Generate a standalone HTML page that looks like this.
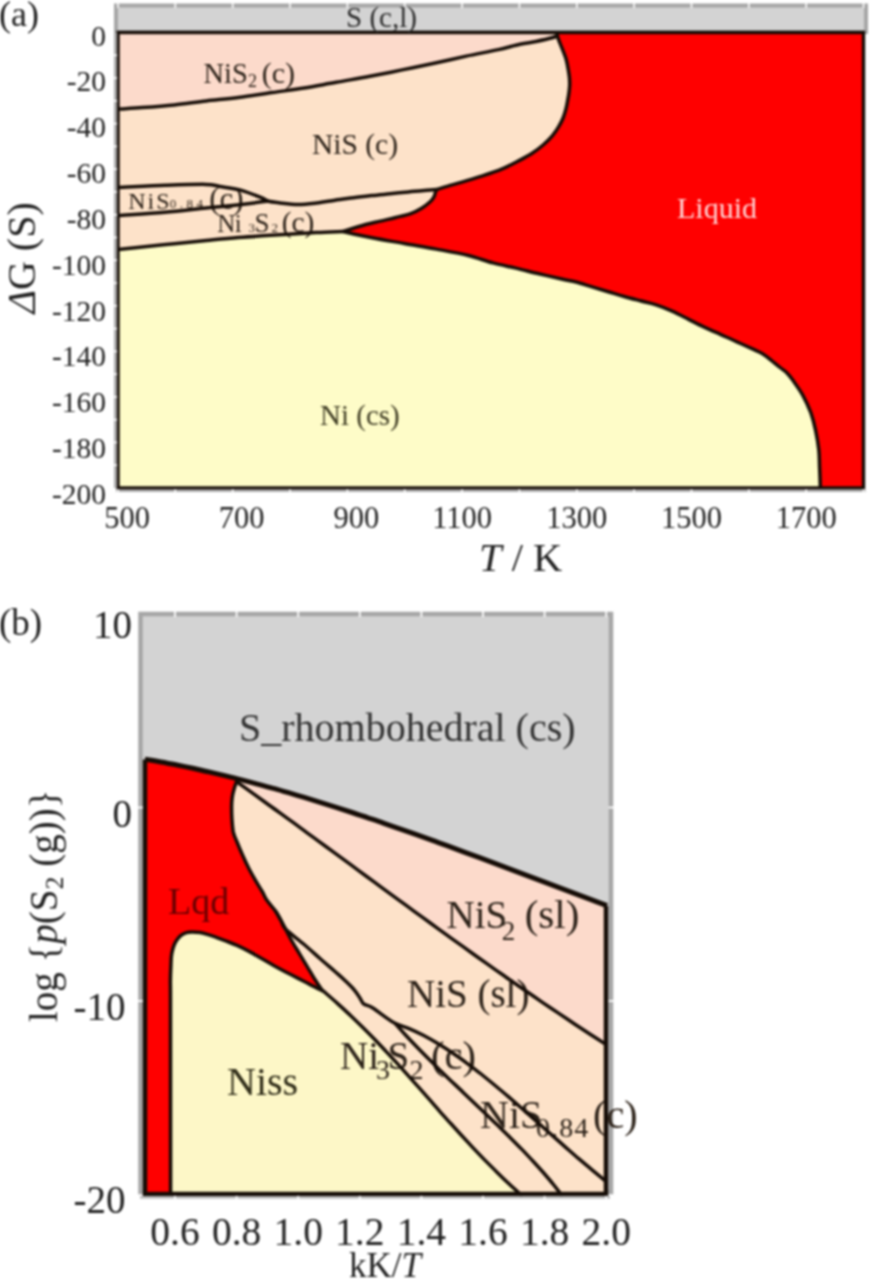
<!DOCTYPE html>
<html><head><meta charset="utf-8"><style>
html,body{margin:0;padding:0;background:#fff;}
body{width:872px;height:1280px;overflow:hidden;position:relative;}
svg{position:absolute;left:0;top:0;display:block;filter:blur(1px);}
text{font-family:"Liberation Serif",serif;}
</style></head><body>
<svg width="872" height="1280" viewBox="0 0 872 1280">
<rect x="116" y="5.5" width="750" height="26.5" fill="#d3d3d3" stroke="#a6a6a6" stroke-width="4"/>
<rect x="118.0" y="32.5" width="745.5" height="455.5" fill="#fde2c9"/>
<path d="M118.0,32.5 L557,32.5 L557.5,35.5 C556.6,35.9 555.6,36.8 552.0,37.8 C548.4,38.8 541.3,40.4 536.0,41.5 C530.7,42.6 526.3,42.9 520.0,44.3 C513.7,45.6 507.3,47.6 498.4,49.6 C489.4,51.6 477.0,53.8 466.3,56.1 C455.6,58.4 444.9,61.0 434.2,63.3 C423.5,65.6 412.8,67.7 402.1,69.9 C391.4,72.1 381.0,74.2 370.0,76.3 C359.0,78.4 347.3,80.3 336.3,82.3 C325.3,84.2 314.9,86.3 304.2,88.0 C293.5,89.7 283.1,91.0 272.1,92.6 C261.1,94.2 249.4,96.1 238.4,97.5 C227.4,98.9 217.0,99.7 206.3,100.9 C195.6,102.1 184.9,103.8 174.2,104.9 C163.5,106.0 151.5,106.9 142.1,107.6 C132.7,108.3 122.0,108.8 118.0,109.1 Z" fill="#fcdacb"/>
<path d="M557,32.5 L863.5,32.5 L863.5,488.0 L820.4,488.0 L820.4,489.0 C820.3,485.4 819.9,473.9 819.6,467.3 C819.3,460.8 819.5,455.9 818.8,449.7 C818.1,443.5 816.9,436.6 815.6,430.4 C814.3,424.2 812.9,418.6 810.8,412.7 C808.6,406.8 805.7,400.5 802.7,395.1 C799.8,389.8 795.8,384.4 793.1,380.6 C790.4,376.8 788.7,374.7 786.5,372.5 C784.3,370.3 782.4,369.4 780.0,367.5 C777.6,365.6 774.7,363.2 772.0,361.0 C769.3,358.8 766.9,356.4 763.6,354.4 C760.3,352.4 757.0,350.9 752.4,348.8 C747.8,346.7 741.6,344.0 736.3,341.6 C730.9,339.2 725.6,336.7 720.3,334.3 C714.9,331.9 709.6,329.6 704.2,327.1 C698.9,324.6 693.6,321.8 688.2,319.1 C682.9,316.4 677.5,313.5 672.1,311.1 C666.8,308.7 661.4,306.5 656.1,304.8 C650.8,303.1 645.6,302.2 640.3,300.8 C635.0,299.4 629.6,298.0 624.2,296.5 C618.9,295.0 613.6,293.3 608.2,291.7 C602.9,290.1 597.5,288.5 592.1,286.9 C586.8,285.3 581.2,283.3 576.1,282.0 C571.0,280.7 567.9,280.4 561.7,279.0 C555.5,277.6 546.4,275.6 538.8,273.8 C531.2,272.0 523.5,269.9 515.9,268.1 C508.2,266.3 500.8,265.0 492.9,262.9 C485.0,260.8 477.8,257.8 468.4,255.5 C459.0,253.2 447.0,251.1 436.3,249.1 C425.6,247.1 414.9,245.4 404.2,243.5 C393.5,241.6 382.3,239.8 372.1,237.8 C361.9,235.8 347.9,232.6 343.0,231.5 C346.8,230.3 359.5,226.2 365.7,224.5 C371.9,222.8 375.3,222.3 380.3,221.1 C385.3,219.9 390.6,218.8 395.8,217.5 C401.0,216.2 407.0,214.9 411.3,213.3 C415.6,211.8 418.5,210.1 421.6,208.2 C424.7,206.3 427.8,203.9 429.9,202.0 C432.0,200.1 433.1,198.4 434.0,196.8 C434.9,195.2 435.0,193.4 435.5,192.2 C436.0,191.0 436.8,189.9 437.0,189.5 C438.8,188.9 444.0,187.3 448.0,186.1 C452.0,184.9 455.4,184.0 461.0,182.3 C466.6,180.6 474.7,178.3 481.6,176.1 C488.5,173.9 495.8,171.6 502.2,168.9 C508.6,166.2 515.0,162.7 520.0,160.1 C525.0,157.5 528.2,155.8 532.1,153.3 C536.0,150.8 539.7,147.9 543.1,145.0 C546.5,142.1 549.7,139.0 552.3,135.9 C554.9,132.8 556.9,129.8 558.7,126.7 C560.5,123.6 562.1,120.6 563.3,117.5 C564.5,114.4 565.3,111.3 566.1,108.3 C566.9,105.2 567.4,101.8 567.9,99.2 C568.4,96.6 568.7,94.9 569.0,92.5 C569.3,90.1 569.6,87.5 569.7,85.0 C569.8,82.5 569.6,79.8 569.4,77.2 C569.1,74.6 568.7,72.2 568.2,69.2 C567.7,66.2 567.0,62.5 566.2,59.5 C565.4,56.5 564.3,54.2 563.3,51.5 C562.3,48.8 561.0,45.9 560.1,43.5 C559.2,41.1 558.2,38.8 557.7,37.0 C557.2,35.2 557.1,33.7 557.0,33.0 Z" fill="#ff0000"/>
<path d="M118.0,488.0 L118.0,249.4 C122.0,249.0 132.7,247.9 142.1,246.9 C151.5,245.9 163.5,244.8 174.2,243.7 C184.9,242.6 195.6,241.5 206.3,240.5 C217.0,239.5 227.0,238.5 238.4,237.6 C249.8,236.7 262.1,235.9 275.0,235.1 C287.9,234.3 304.7,233.2 316.0,232.6 C327.3,232.0 338.5,231.7 343.0,231.5 C347.9,232.6 361.9,235.8 372.1,237.8 C382.3,239.8 393.5,241.6 404.2,243.5 C414.9,245.4 425.6,247.1 436.3,249.1 C447.0,251.1 459.0,253.2 468.4,255.5 C477.8,257.8 485.0,260.8 492.9,262.9 C500.8,265.0 508.2,266.3 515.9,268.1 C523.5,269.9 531.2,272.0 538.8,273.8 C546.4,275.6 555.5,277.6 561.7,279.0 C567.9,280.4 571.0,280.7 576.1,282.0 C581.2,283.3 586.8,285.3 592.1,286.9 C597.5,288.5 602.9,290.1 608.2,291.7 C613.6,293.3 618.9,295.0 624.2,296.5 C629.6,298.0 635.0,299.4 640.3,300.8 C645.6,302.2 650.8,303.1 656.1,304.8 C661.4,306.5 666.8,308.7 672.1,311.1 C677.5,313.5 682.9,316.4 688.2,319.1 C693.6,321.8 698.9,324.6 704.2,327.1 C709.6,329.6 714.9,331.9 720.3,334.3 C725.6,336.7 730.9,339.2 736.3,341.6 C741.6,344.0 747.8,346.7 752.4,348.8 C757.0,350.9 760.3,352.4 763.6,354.4 C766.9,356.4 769.3,358.8 772.0,361.0 C774.7,363.2 777.6,365.6 780.0,367.5 C782.4,369.4 784.3,370.3 786.5,372.5 C788.7,374.7 790.4,376.8 793.1,380.6 C795.8,384.4 799.8,389.8 802.7,395.1 C805.7,400.5 808.6,406.8 810.8,412.7 C812.9,418.6 814.3,424.2 815.6,430.4 C816.9,436.6 818.1,443.5 818.8,449.7 C819.5,455.9 819.3,460.8 819.6,467.3 C819.9,473.9 820.3,485.4 820.4,489.0 L118.0,488.0 Z" fill="#fefcc8"/>
<text font-size="28.5" fill="#2b2118"><tspan x="203.4" y="83.4">NiS</tspan><tspan x="248" y="86.5" font-size="18">2</tspan><tspan x="261.7" y="83.4" font-size="30">(c)</tspan></text>
<text x="312" y="154.1" font-size="29.5" fill="#2b2118">NiS (c)</text>
<text font-size="24" fill="#2b2118"><tspan x="128.2" y="208.6" letter-spacing="2">NiS</tspan><tspan x="169.8" y="207.8" font-size="13" letter-spacing="3.5">0.84</tspan><tspan x="209.2" y="208.8" font-size="31">(c)</tspan></text>
<text font-size="25" fill="#2b2118"><tspan x="217.3" y="232.1" letter-spacing="-0.5">Ni</tspan><tspan x="248.4" y="232.3" font-size="13">3</tspan><tspan x="254.5" y="232.1" font-size="27">S</tspan><tspan x="271.4" y="232.3" font-size="13">2</tspan><tspan x="281.7" y="232.1" font-size="29.5">(c)</tspan></text>
<text x="677" y="217.8" font-size="30" fill="#ffd9d9">Liquid</text>
<text x="320" y="424.6" font-size="29" fill="#3d3a22">Ni (cs)</text>
<path d="M118.0,109.1 C122.0,108.8 132.7,108.3 142.1,107.6 C151.5,106.9 163.5,106.0 174.2,104.9 C184.9,103.8 195.6,102.1 206.3,100.9 C217.0,99.7 227.4,98.9 238.4,97.5 C249.4,96.1 261.1,94.2 272.1,92.6 C283.1,91.0 293.5,89.7 304.2,88.0 C314.9,86.3 325.3,84.2 336.3,82.3 C347.3,80.3 359.0,78.4 370.0,76.3 C381.0,74.2 391.4,72.1 402.1,69.9 C412.8,67.7 423.5,65.6 434.2,63.3 C444.9,61.0 455.6,58.4 466.3,56.1 C477.0,53.8 489.4,51.6 498.4,49.6 C507.3,47.6 513.7,45.6 520.0,44.3 C526.3,42.9 530.7,42.6 536.0,41.5 C541.3,40.4 548.4,38.8 552.0,37.8 C555.6,36.8 556.6,35.9 557.5,35.5" fill="none" stroke="#150c06" stroke-width="3.5" stroke-linejoin="round"/>
<path d="M557.0,33.0 C557.1,33.7 557.2,35.2 557.7,37.0 C558.2,38.8 559.2,41.1 560.1,43.5 C561.0,45.9 562.3,48.8 563.3,51.5 C564.3,54.2 565.4,56.5 566.2,59.5 C567.0,62.5 567.7,66.2 568.2,69.2 C568.7,72.2 569.1,74.6 569.4,77.2 C569.6,79.8 569.8,82.5 569.7,85.0 C569.6,87.5 569.3,90.1 569.0,92.5 C568.7,94.9 568.4,96.6 567.9,99.2 C567.4,101.8 566.9,105.2 566.1,108.3 C565.3,111.3 564.5,114.4 563.3,117.5 C562.1,120.6 560.5,123.6 558.7,126.7 C556.9,129.8 554.9,132.8 552.3,135.9 C549.7,139.0 546.5,142.1 543.1,145.0 C539.7,147.9 536.0,150.8 532.1,153.3 C528.2,155.8 525.0,157.5 520.0,160.1 C515.0,162.7 508.6,166.2 502.2,168.9 C495.8,171.6 488.5,173.9 481.6,176.1 C474.7,178.3 466.6,180.6 461.0,182.3 C455.4,184.0 452.0,184.9 448.0,186.1 C444.0,187.3 438.8,188.9 437.0,189.5" fill="none" stroke="#150c06" stroke-width="3.5" stroke-linejoin="round"/>
<path d="M118.0,187.4 C125.8,187.1 150.3,185.8 165.0,185.3 C179.7,184.8 196.8,184.2 206.0,184.4 C215.2,184.6 214.2,185.6 220.0,186.5 C225.8,187.4 233.7,188.2 240.6,190.1 C247.5,192.0 256.7,195.9 261.3,197.7 C265.9,199.5 264.9,200.1 268.0,201.0 C271.1,201.9 274.9,202.3 280.0,202.9 C285.1,203.5 292.2,204.5 298.3,204.5 C304.4,204.5 310.6,203.7 316.7,203.0 C322.8,202.3 328.9,201.1 335.0,200.2 C341.1,199.3 347.3,198.6 353.4,197.8 C359.5,197.0 365.6,196.3 371.7,195.6 C377.8,194.9 384.0,194.4 390.1,193.8 C396.2,193.2 402.3,192.5 408.4,191.9 C414.5,191.3 422.0,190.7 426.8,190.3 C431.6,189.9 435.3,189.6 437.0,189.5" fill="none" stroke="#150c06" stroke-width="3.5" stroke-linejoin="round"/>
<path d="M118.0,215.6 C125.8,215.0 150.3,213.5 165.0,212.2 C179.7,210.9 195.7,209.0 206.0,208.0 C216.3,207.0 219.7,206.8 227.0,206.0 C234.3,205.2 243.2,204.3 250.0,203.5 C256.8,202.7 265.0,201.4 268.0,201.0" fill="none" stroke="#150c06" stroke-width="3.5" stroke-linejoin="round"/>
<path d="M437.0,189.5 C436.8,189.9 436.0,191.0 435.5,192.2 C435.0,193.4 434.9,195.2 434.0,196.8 C433.1,198.4 432.0,200.1 429.9,202.0 C427.8,203.9 424.7,206.3 421.6,208.2 C418.5,210.1 415.6,211.8 411.3,213.3 C407.0,214.9 401.0,216.2 395.8,217.5 C390.6,218.8 385.3,219.9 380.3,221.1 C375.3,222.3 371.9,222.8 365.7,224.5 C359.5,226.2 346.8,230.3 343.0,231.5" fill="none" stroke="#150c06" stroke-width="3.5" stroke-linejoin="round"/>
<path d="M118.0,249.4 C122.0,249.0 132.7,247.9 142.1,246.9 C151.5,245.9 163.5,244.8 174.2,243.7 C184.9,242.6 195.6,241.5 206.3,240.5 C217.0,239.5 227.0,238.5 238.4,237.6 C249.8,236.7 262.1,235.9 275.0,235.1 C287.9,234.3 304.7,233.2 316.0,232.6 C327.3,232.0 338.5,231.7 343.0,231.5" fill="none" stroke="#150c06" stroke-width="3.5" stroke-linejoin="round"/>
<path d="M343.0,231.5 C347.9,232.6 361.9,235.8 372.1,237.8 C382.3,239.8 393.5,241.6 404.2,243.5 C414.9,245.4 425.6,247.1 436.3,249.1 C447.0,251.1 459.0,253.2 468.4,255.5 C477.8,257.8 485.0,260.8 492.9,262.9 C500.8,265.0 508.2,266.3 515.9,268.1 C523.5,269.9 531.2,272.0 538.8,273.8 C546.4,275.6 555.5,277.6 561.7,279.0 C567.9,280.4 571.0,280.7 576.1,282.0 C581.2,283.3 586.8,285.3 592.1,286.9 C597.5,288.5 602.9,290.1 608.2,291.7 C613.6,293.3 618.9,295.0 624.2,296.5 C629.6,298.0 635.0,299.4 640.3,300.8 C645.6,302.2 650.8,303.1 656.1,304.8 C661.4,306.5 666.8,308.7 672.1,311.1 C677.5,313.5 682.9,316.4 688.2,319.1 C693.6,321.8 698.9,324.6 704.2,327.1 C709.6,329.6 714.9,331.9 720.3,334.3 C725.6,336.7 730.9,339.2 736.3,341.6 C741.6,344.0 747.8,346.7 752.4,348.8 C757.0,350.9 760.3,352.4 763.6,354.4 C766.9,356.4 769.3,358.8 772.0,361.0 C774.7,363.2 777.6,365.6 780.0,367.5 C782.4,369.4 784.3,370.3 786.5,372.5 C788.7,374.7 790.4,376.8 793.1,380.6 C795.8,384.4 799.8,389.8 802.7,395.1 C805.7,400.5 808.6,406.8 810.8,412.7 C812.9,418.6 814.3,424.2 815.6,430.4 C816.9,436.6 818.1,443.5 818.8,449.7 C819.5,455.9 819.3,460.8 819.6,467.3 C819.9,473.9 820.3,485.4 820.4,489.0" fill="none" stroke="#150c06" stroke-width="3.5" stroke-linejoin="round"/>
<rect x="118.0" y="32.5" width="745.5" height="455.5" fill="none" stroke="#150c06" stroke-width="3.4"/>
<rect x="114" y="32.5" width="3" height="455.5" fill="#a8a8a8"/>
<rect x="113" y="54.5" width="4.2" height="1.6" fill="#fff"/>
<rect x="113" y="77.2" width="4.2" height="1.6" fill="#fff"/>
<rect x="113" y="100.0" width="4.2" height="1.6" fill="#fff"/>
<rect x="113" y="122.8" width="4.2" height="1.6" fill="#fff"/>
<rect x="113" y="145.6" width="4.2" height="1.6" fill="#fff"/>
<rect x="113" y="168.3" width="4.2" height="1.6" fill="#fff"/>
<rect x="113" y="191.1" width="4.2" height="1.6" fill="#fff"/>
<rect x="113" y="213.9" width="4.2" height="1.6" fill="#fff"/>
<rect x="113" y="236.7" width="4.2" height="1.6" fill="#fff"/>
<rect x="113" y="259.4" width="4.2" height="1.6" fill="#fff"/>
<rect x="113" y="282.2" width="4.2" height="1.6" fill="#fff"/>
<rect x="113" y="305.0" width="4.2" height="1.6" fill="#fff"/>
<rect x="113" y="327.8" width="4.2" height="1.6" fill="#fff"/>
<rect x="113" y="350.6" width="4.2" height="1.6" fill="#fff"/>
<rect x="113" y="373.3" width="4.2" height="1.6" fill="#fff"/>
<rect x="113" y="396.1" width="4.2" height="1.6" fill="#fff"/>
<rect x="113" y="418.9" width="4.2" height="1.6" fill="#fff"/>
<rect x="113" y="441.6" width="4.2" height="1.6" fill="#fff"/>
<rect x="113" y="464.4" width="4.2" height="1.6" fill="#fff"/>
<rect x="116" y="489.6" width="749.5" height="2.4" fill="#b0b0b0"/>
<rect x="117.2" y="489.2" width="1.6" height="3.4" fill="#fff"/>
<rect x="174.5" y="489.2" width="1.6" height="3.4" fill="#fff"/>
<rect x="231.9" y="489.2" width="1.6" height="3.4" fill="#fff"/>
<rect x="289.2" y="489.2" width="1.6" height="3.4" fill="#fff"/>
<rect x="346.6" y="489.2" width="1.6" height="3.4" fill="#fff"/>
<rect x="403.9" y="489.2" width="1.6" height="3.4" fill="#fff"/>
<rect x="461.3" y="489.2" width="1.6" height="3.4" fill="#fff"/>
<rect x="518.6" y="489.2" width="1.6" height="3.4" fill="#fff"/>
<rect x="576.0" y="489.2" width="1.6" height="3.4" fill="#fff"/>
<rect x="633.3" y="489.2" width="1.6" height="3.4" fill="#fff"/>
<rect x="690.7" y="489.2" width="1.6" height="3.4" fill="#fff"/>
<rect x="748.0" y="489.2" width="1.6" height="3.4" fill="#fff"/>
<rect x="805.4" y="489.2" width="1.6" height="3.4" fill="#fff"/>
<rect x="862.7" y="489.2" width="1.6" height="3.4" fill="#fff"/>
<rect x="117.2" y="2" width="1.6" height="6" fill="#fff"/>
<rect x="174.5" y="2" width="1.6" height="6" fill="#fff"/>
<rect x="231.9" y="2" width="1.6" height="6" fill="#fff"/>
<rect x="289.2" y="2" width="1.6" height="6" fill="#fff"/>
<rect x="346.6" y="2" width="1.6" height="6" fill="#fff"/>
<rect x="403.9" y="2" width="1.6" height="6" fill="#fff"/>
<rect x="461.3" y="2" width="1.6" height="6" fill="#fff"/>
<rect x="518.6" y="2" width="1.6" height="6" fill="#fff"/>
<rect x="576.0" y="2" width="1.6" height="6" fill="#fff"/>
<rect x="633.3" y="2" width="1.6" height="6" fill="#fff"/>
<rect x="690.7" y="2" width="1.6" height="6" fill="#fff"/>
<rect x="748.0" y="2" width="1.6" height="6" fill="#fff"/>
<rect x="805.4" y="2" width="1.6" height="6" fill="#fff"/>
<rect x="862.7" y="2" width="1.6" height="6" fill="#fff"/>
<text x="-1" y="25.5" font-size="36" fill="#222">(a)</text>
<text x="346" y="26.8" font-size="29" fill="#2a2a2a" textLength="71" lengthAdjust="spacingAndGlyphs">S (c,l)</text>
<text x="106" y="45.5" font-size="29.5" fill="#222" text-anchor="end">0</text>
<text x="106" y="91.3" font-size="29.5" fill="#222" text-anchor="end">-20</text>
<text x="106" y="137.2" font-size="29.5" fill="#222" text-anchor="end">-40</text>
<text x="106" y="183.1" font-size="29.5" fill="#222" text-anchor="end">-60</text>
<text x="106" y="228.9" font-size="29.5" fill="#222" text-anchor="end">-80</text>
<text x="106" y="274.8" font-size="29.5" fill="#222" text-anchor="end">-100</text>
<text x="106" y="320.6" font-size="29.5" fill="#222" text-anchor="end">-120</text>
<text x="106" y="366.4" font-size="29.5" fill="#222" text-anchor="end">-140</text>
<text x="106" y="412.3" font-size="29.5" fill="#222" text-anchor="end">-160</text>
<text x="106" y="458.2" font-size="29.5" fill="#222" text-anchor="end">-180</text>
<text x="106" y="504.0" font-size="29.5" fill="#222" text-anchor="end">-200</text>
<text x="127.0" y="527.5" font-size="30.5" fill="#222" text-anchor="middle">500</text>
<text x="241.7" y="527.5" font-size="30.5" fill="#222" text-anchor="middle">700</text>
<text x="356.4" y="527.5" font-size="30.5" fill="#222" text-anchor="middle">900</text>
<text x="462.1" y="527.5" font-size="30.5" fill="#222" text-anchor="middle">1100</text>
<text x="576.8" y="527.5" font-size="30.5" fill="#222" text-anchor="middle">1300</text>
<text x="691.5" y="527.5" font-size="30.5" fill="#222" text-anchor="middle">1500</text>
<text x="806.2" y="527.5" font-size="30.5" fill="#222" text-anchor="middle">1700</text>
<text x="479" y="570.7" font-size="40.5" fill="#222"><tspan font-style="italic">T</tspan> / K</text>
<text transform="translate(34.5,313.5) rotate(-90)" font-size="40" fill="#222"><tspan font-style="italic">&#916;</tspan>G (S)</text>
<rect x="140.5" y="614" width="470.5" height="578" fill="#d3d3d3" stroke="#a6a6a6" stroke-width="4.5"/>
<path d="M145.0,759.2 C147.7,759.6 155.6,761.0 160.9,762.0 C166.2,762.9 171.6,764.0 176.9,765.0 C182.2,766.1 187.5,767.2 192.8,768.3 C198.1,769.5 203.4,770.6 208.7,771.9 C214.0,773.1 219.3,774.3 224.7,775.6 C230.0,776.9 235.3,778.2 240.6,779.6 C245.9,781.0 251.2,782.4 256.5,783.8 C261.8,785.2 267.1,786.7 272.4,788.2 C277.8,789.6 283.1,791.2 288.4,792.7 C293.7,794.3 299.0,795.8 304.3,797.4 C309.6,799.0 314.9,800.7 320.2,802.3 C325.6,804.0 330.9,805.7 336.2,807.4 C341.5,809.1 346.8,810.8 352.1,812.5 C357.4,814.3 362.7,816.1 368.0,817.8 C373.3,819.6 378.7,821.4 384.0,823.3 C389.3,825.1 394.6,826.9 399.9,828.8 C405.2,830.7 410.5,832.5 415.8,834.4 C421.1,836.3 426.4,838.2 431.8,840.1 C437.1,842.1 442.4,844.0 447.7,845.9 C453.0,847.9 458.3,849.8 463.6,851.8 C468.9,853.8 474.2,855.7 479.6,857.7 C484.9,859.7 490.2,861.7 495.5,863.7 C500.8,865.7 506.1,867.7 511.4,869.7 C516.7,871.7 522.0,873.7 527.3,875.7 C532.7,877.7 538.0,879.7 543.3,881.7 C548.6,883.7 553.9,885.7 559.2,887.7 C564.5,889.7 569.8,891.7 575.1,893.7 C580.4,895.7 585.8,897.7 591.1,899.7 C596.4,901.7 604.3,904.7 607.0,905.7 L606.0,1194.0 L145.0,1194.0 Z" fill="#fde2c9"/>
<path d="M237.5,778.8 C238.0,778.9 237.4,778.8 240.6,779.6 C243.8,780.4 251.2,782.4 256.5,783.8 C261.8,785.2 267.1,786.7 272.4,788.2 C277.8,789.6 283.1,791.2 288.4,792.7 C293.7,794.3 299.0,795.8 304.3,797.4 C309.6,799.0 314.9,800.7 320.2,802.3 C325.6,804.0 330.9,805.7 336.2,807.4 C341.5,809.1 346.8,810.8 352.1,812.5 C357.4,814.3 362.7,816.1 368.0,817.8 C373.3,819.6 378.7,821.4 384.0,823.3 C389.3,825.1 394.6,826.9 399.9,828.8 C405.2,830.7 410.5,832.5 415.8,834.4 C421.1,836.3 426.4,838.2 431.8,840.1 C437.1,842.1 442.4,844.0 447.7,845.9 C453.0,847.9 458.3,849.8 463.6,851.8 C468.9,853.8 474.2,855.7 479.6,857.7 C484.9,859.7 490.2,861.7 495.5,863.7 C500.8,865.7 506.1,867.7 511.4,869.7 C516.7,871.7 522.0,873.7 527.3,875.7 C532.7,877.7 538.0,879.7 543.3,881.7 C548.6,883.7 553.9,885.7 559.2,887.7 C564.5,889.7 569.8,891.7 575.1,893.7 C580.4,895.7 585.8,897.7 591.1,899.7 C596.4,901.7 604.3,904.7 607.0,905.7 L607.0,1045.1 C604.3,1043.4 596.3,1038.2 590.9,1034.7 C585.6,1031.2 580.2,1027.7 574.9,1024.2 C569.5,1020.6 564.2,1017.0 558.8,1013.4 C553.4,1009.8 548.1,1006.2 542.7,1002.6 C537.4,998.9 532.0,995.2 526.7,991.5 C521.3,987.8 516.0,984.1 510.6,980.4 C505.3,976.6 499.9,972.9 494.5,969.1 C489.2,965.3 483.8,961.5 478.5,957.7 C473.1,953.9 467.8,950.1 462.4,946.2 C457.1,942.4 451.7,938.5 446.3,934.7 C441.0,930.8 435.6,926.9 430.3,923.0 C424.9,919.1 419.6,915.2 414.2,911.3 C408.9,907.4 403.5,903.5 398.2,899.6 C392.8,895.7 387.4,891.7 382.1,887.8 C376.7,883.9 371.4,879.9 366.0,876.0 C360.7,872.1 355.3,868.1 350.0,864.2 C344.6,860.3 339.2,856.3 333.9,852.4 C328.5,848.5 323.2,844.5 317.8,840.6 C312.5,836.7 307.1,832.8 301.8,828.8 C296.4,824.9 291.1,821.0 285.7,817.1 C280.3,813.2 275.0,809.3 269.6,805.5 C264.3,801.6 258.9,797.7 253.6,793.9 C248.2,790.0 240.2,784.2 237.5,782.3 Z" fill="#fcdacb"/>
<path d="M145.0,759.2 C147.7,759.6 155.6,761.0 160.9,762.0 C166.2,762.9 171.6,764.0 176.9,765.0 C182.2,766.1 187.5,767.2 192.8,768.3 C198.1,769.5 203.4,770.6 208.7,771.9 C214.0,773.1 219.9,774.5 224.7,775.6 C229.5,776.8 235.4,778.3 237.5,778.8 C237.0,780.4 235.2,785.2 234.3,788.3 C233.4,791.4 232.6,794.4 232.2,797.5 C231.8,800.6 231.6,803.2 231.6,806.7 C231.6,810.2 231.6,814.1 231.9,818.3 C232.2,822.5 232.5,828.1 233.3,832.1 C234.2,836.1 235.5,838.2 237.0,842.0 C238.5,845.8 240.5,850.5 242.5,855.0 C244.5,859.5 246.8,864.5 249.0,868.8 C251.2,873.1 253.4,876.9 255.6,880.7 C257.8,884.5 260.3,888.3 262.2,891.5 C264.1,894.7 264.5,896.8 266.7,900.0 C268.9,903.2 273.1,907.6 275.5,911.0 C277.9,914.4 279.3,917.5 281.0,920.5 C282.7,923.5 283.6,925.4 285.5,929.0 C287.4,932.6 290.0,937.8 292.4,942.0 C294.8,946.2 297.3,950.1 299.7,954.1 C302.1,958.1 304.5,962.1 306.9,966.1 C309.3,970.1 311.7,974.4 314.1,978.2 C316.5,982.0 319.7,986.8 321.3,989.0 C322.9,991.2 323.3,991.0 323.7,991.4 C323.3,991.2 323.7,991.4 321.3,990.2 C318.9,989.0 313.3,986.2 309.3,984.1 C305.3,982.0 301.2,980.0 297.2,977.9 C293.2,975.8 289.2,973.8 285.2,971.7 C281.2,969.6 277.2,967.5 273.2,965.2 C269.2,963.0 265.1,960.5 261.1,958.2 C257.1,955.9 253.1,953.5 249.1,951.4 C245.1,949.3 241.0,947.2 237.0,945.4 C233.0,943.6 228.5,942.0 225.0,940.6 C221.5,939.2 219.0,938.3 216.2,937.3 C213.4,936.3 210.9,935.4 208.2,934.6 C205.5,933.8 202.8,933.0 200.1,932.6 C197.4,932.2 194.5,932.0 192.1,932.0 C189.7,932.0 187.7,932.1 185.7,932.8 C183.7,933.5 181.8,934.6 180.1,936.1 C178.4,937.6 177.0,939.7 175.8,941.7 C174.6,943.7 173.8,945.7 173.1,948.1 C172.4,950.5 171.8,952.8 171.4,956.1 C171.0,959.5 171.0,964.2 170.8,968.2 C170.6,972.2 170.5,973.0 170.4,980.0 C170.3,987.0 170.5,974.0 170.5,1010.0 C170.5,1046.0 170.6,1165.0 170.6,1196.0 L145.0,1194.0 Z" fill="#ff0000"/>
<path d="M170.6,1196.0 C170.6,1165.0 170.5,1046.0 170.5,1010.0 C170.5,974.0 170.3,987.0 170.4,980.0 C170.5,973.0 170.6,972.2 170.8,968.2 C171.0,964.2 171.0,959.5 171.4,956.1 C171.8,952.8 172.4,950.5 173.1,948.1 C173.8,945.7 174.6,943.7 175.8,941.7 C177.0,939.7 178.4,937.6 180.1,936.1 C181.8,934.6 183.7,933.5 185.7,932.8 C187.7,932.1 189.7,932.0 192.1,932.0 C194.5,932.0 197.4,932.2 200.1,932.6 C202.8,933.0 205.5,933.8 208.2,934.6 C210.9,935.4 213.4,936.3 216.2,937.3 C219.0,938.3 221.5,939.2 225.0,940.6 C228.5,942.0 233.0,943.6 237.0,945.4 C241.0,947.2 245.1,949.3 249.1,951.4 C253.1,953.5 257.1,955.9 261.1,958.2 C265.1,960.5 269.2,963.0 273.2,965.2 C277.2,967.5 281.2,969.6 285.2,971.7 C289.2,973.8 293.2,975.8 297.2,977.9 C301.2,980.0 305.3,982.0 309.3,984.1 C313.3,986.2 318.9,989.0 321.3,990.2 C323.7,991.4 323.3,991.2 323.7,991.4 C326.0,993.4 333.0,999.4 337.4,1003.4 C341.9,1007.4 346.2,1011.5 350.5,1015.5 C354.7,1019.5 358.8,1023.5 362.9,1027.5 C366.9,1031.5 370.9,1035.5 374.8,1039.5 C378.7,1043.6 382.5,1047.6 386.2,1051.6 C390.0,1055.6 393.7,1059.6 397.4,1063.6 C401.0,1067.6 404.6,1071.6 408.2,1075.6 C411.8,1079.7 415.4,1083.7 419.0,1087.7 C422.5,1091.7 426.0,1095.7 429.6,1099.7 C433.1,1103.7 436.7,1107.7 440.2,1111.8 C443.8,1115.8 447.3,1119.8 451.0,1123.8 C454.6,1127.8 458.2,1131.8 461.9,1135.8 C465.6,1139.8 469.3,1143.8 473.1,1147.9 C476.9,1151.9 480.7,1155.9 484.6,1159.9 C488.6,1163.9 492.6,1167.9 496.7,1171.9 C500.7,1175.9 504.9,1180.0 509.2,1184.0 C513.5,1188.0 520.2,1194.0 522.4,1196.0 Z" fill="#fdf7c7"/>
<text x="239" y="741.3" font-size="40" fill="#333">S_rhombohedral (cs)</text>
<text x="168" y="914.4" font-size="38" fill="#6a0000">Lqd</text>
<text font-size="39" fill="#2b2118"><tspan x="446.5" y="928">NiS</tspan><tspan x="501.8" y="940" font-size="27">2</tspan><tspan x="524.7" y="928" font-size="41">(sl)</tspan></text>
<text x="407" y="1007" font-size="39" fill="#2b2118">NiS (sl)</text>
<text font-size="39" fill="#2b2118"><tspan x="340" y="1068.5">Ni</tspan><tspan x="376" y="1079" font-size="28">3</tspan><tspan x="387.5" y="1068.5">S</tspan><tspan x="409.5" y="1079" font-size="28">2</tspan><tspan x="431" y="1068.5" font-size="40.5">(c)</tspan></text>
<text x="227" y="1095.3" font-size="40" fill="#2f2c18">Niss</text>
<text font-size="40" fill="#2b2118"><tspan x="480.1" y="1128.2">NiS</tspan><tspan x="536" y="1137.1" font-size="28" letter-spacing="1.1">0.84</tspan><tspan x="593.1" y="1128.2">(c)</tspan></text>
<path d="M145.0,759.2 C147.7,759.6 155.6,761.0 160.9,762.0 C166.2,762.9 171.6,764.0 176.9,765.0 C182.2,766.1 187.5,767.2 192.8,768.3 C198.1,769.5 203.4,770.6 208.7,771.9 C214.0,773.1 219.3,774.3 224.7,775.6 C230.0,776.9 235.3,778.2 240.6,779.6 C245.9,781.0 251.2,782.4 256.5,783.8 C261.8,785.2 267.1,786.7 272.4,788.2 C277.8,789.6 283.1,791.2 288.4,792.7 C293.7,794.3 299.0,795.8 304.3,797.4 C309.6,799.0 314.9,800.7 320.2,802.3 C325.6,804.0 330.9,805.7 336.2,807.4 C341.5,809.1 346.8,810.8 352.1,812.5 C357.4,814.3 362.7,816.1 368.0,817.8 C373.3,819.6 378.7,821.4 384.0,823.3 C389.3,825.1 394.6,826.9 399.9,828.8 C405.2,830.7 410.5,832.5 415.8,834.4 C421.1,836.3 426.4,838.2 431.8,840.1 C437.1,842.1 442.4,844.0 447.7,845.9 C453.0,847.9 458.3,849.8 463.6,851.8 C468.9,853.8 474.2,855.7 479.6,857.7 C484.9,859.7 490.2,861.7 495.5,863.7 C500.8,865.7 506.1,867.7 511.4,869.7 C516.7,871.7 522.0,873.7 527.3,875.7 C532.7,877.7 538.0,879.7 543.3,881.7 C548.6,883.7 553.9,885.7 559.2,887.7 C564.5,889.7 569.8,891.7 575.1,893.7 C580.4,895.7 585.8,897.7 591.1,899.7 C596.4,901.7 604.3,904.7 607.0,905.7" fill="none" stroke="#150c06" stroke-width="5" stroke-linejoin="round"/>
<path d="M237.5,778.8 C237.0,780.4 235.2,785.2 234.3,788.3 C233.4,791.4 232.6,794.4 232.2,797.5 C231.8,800.6 231.6,803.2 231.6,806.7 C231.6,810.2 231.6,814.1 231.9,818.3 C232.2,822.5 232.5,828.1 233.3,832.1 C234.2,836.1 235.5,838.2 237.0,842.0 C238.5,845.8 240.5,850.5 242.5,855.0 C244.5,859.5 246.8,864.5 249.0,868.8 C251.2,873.1 253.4,876.9 255.6,880.7 C257.8,884.5 260.3,888.3 262.2,891.5 C264.1,894.7 264.5,896.8 266.7,900.0 C268.9,903.2 273.1,907.6 275.5,911.0 C277.9,914.4 279.3,917.5 281.0,920.5 C282.7,923.5 283.6,925.4 285.5,929.0 C287.4,932.6 290.0,937.8 292.4,942.0 C294.8,946.2 297.3,950.1 299.7,954.1 C302.1,958.1 304.5,962.1 306.9,966.1 C309.3,970.1 311.7,974.4 314.1,978.2 C316.5,982.0 319.7,986.8 321.3,989.0 C322.9,991.2 323.3,991.0 323.7,991.4" fill="none" stroke="#150c06" stroke-width="3.5" stroke-linejoin="round"/>
<path d="M170.6,1196.0 C170.6,1165.0 170.5,1046.0 170.5,1010.0 C170.5,974.0 170.3,987.0 170.4,980.0 C170.5,973.0 170.6,972.2 170.8,968.2 C171.0,964.2 171.0,959.5 171.4,956.1 C171.8,952.8 172.4,950.5 173.1,948.1 C173.8,945.7 174.6,943.7 175.8,941.7 C177.0,939.7 178.4,937.6 180.1,936.1 C181.8,934.6 183.7,933.5 185.7,932.8 C187.7,932.1 189.7,932.0 192.1,932.0 C194.5,932.0 197.4,932.2 200.1,932.6 C202.8,933.0 205.5,933.8 208.2,934.6 C210.9,935.4 213.4,936.3 216.2,937.3 C219.0,938.3 221.5,939.2 225.0,940.6 C228.5,942.0 233.0,943.6 237.0,945.4 C241.0,947.2 245.1,949.3 249.1,951.4 C253.1,953.5 257.1,955.9 261.1,958.2 C265.1,960.5 269.2,963.0 273.2,965.2 C277.2,967.5 281.2,969.6 285.2,971.7 C289.2,973.8 293.2,975.8 297.2,977.9 C301.2,980.0 305.3,982.0 309.3,984.1 C313.3,986.2 318.9,989.0 321.3,990.2 C323.7,991.4 323.3,991.2 323.7,991.4" fill="none" stroke="#150c06" stroke-width="3.5" stroke-linejoin="round"/>
<path d="M323.7,991.4 C326.0,993.4 333.0,999.4 337.4,1003.4 C341.9,1007.4 346.2,1011.5 350.5,1015.5 C354.7,1019.5 358.8,1023.5 362.9,1027.5 C366.9,1031.5 370.9,1035.5 374.8,1039.5 C378.7,1043.6 382.5,1047.6 386.2,1051.6 C390.0,1055.6 393.7,1059.6 397.4,1063.6 C401.0,1067.6 404.6,1071.6 408.2,1075.6 C411.8,1079.7 415.4,1083.7 419.0,1087.7 C422.5,1091.7 426.0,1095.7 429.6,1099.7 C433.1,1103.7 436.7,1107.7 440.2,1111.8 C443.8,1115.8 447.3,1119.8 451.0,1123.8 C454.6,1127.8 458.2,1131.8 461.9,1135.8 C465.6,1139.8 469.3,1143.8 473.1,1147.9 C476.9,1151.9 480.7,1155.9 484.6,1159.9 C488.6,1163.9 492.6,1167.9 496.7,1171.9 C500.7,1175.9 504.9,1180.0 509.2,1184.0 C513.5,1188.0 520.2,1194.0 522.4,1196.0" fill="none" stroke="#150c06" stroke-width="3.5" stroke-linejoin="round"/>
<path d="M237.5,782.3 C240.2,784.2 248.2,790.0 253.6,793.9 C258.9,797.7 264.3,801.6 269.6,805.5 C275.0,809.3 280.3,813.2 285.7,817.1 C291.1,821.0 296.4,824.9 301.8,828.8 C307.1,832.8 312.5,836.7 317.8,840.6 C323.2,844.5 328.5,848.5 333.9,852.4 C339.2,856.3 344.6,860.3 350.0,864.2 C355.3,868.1 360.7,872.1 366.0,876.0 C371.4,879.9 376.7,883.9 382.1,887.8 C387.4,891.7 392.8,895.7 398.2,899.6 C403.5,903.5 408.9,907.4 414.2,911.3 C419.6,915.2 424.9,919.1 430.3,923.0 C435.6,926.9 441.0,930.8 446.3,934.7 C451.7,938.5 457.1,942.4 462.4,946.2 C467.8,950.1 473.1,953.9 478.5,957.7 C483.8,961.5 489.2,965.3 494.5,969.1 C499.9,972.9 505.3,976.6 510.6,980.4 C516.0,984.1 521.3,987.8 526.7,991.5 C532.0,995.2 537.4,998.9 542.7,1002.6 C548.1,1006.2 553.4,1009.8 558.8,1013.4 C564.2,1017.0 569.5,1020.6 574.9,1024.2 C580.2,1027.7 585.6,1031.2 590.9,1034.7 C596.3,1038.2 604.3,1043.4 607.0,1045.1" fill="none" stroke="#150c06" stroke-width="3.5" stroke-linejoin="round"/>
<path d="M275.5,911.0 C276.4,912.6 279.3,917.5 281.0,920.5 C282.7,923.5 281.8,925.2 285.5,929.0 C289.2,932.8 297.2,938.6 303.0,943.5 C308.8,948.4 314.7,953.8 320.0,958.5 C325.3,963.2 330.8,967.8 335.0,971.5 C339.2,975.2 341.8,977.4 345.0,980.5 C348.2,983.6 351.9,987.1 354.4,990.1 C356.9,993.1 358.6,995.9 360.1,998.2 C361.6,1000.5 361.7,1002.4 363.6,1003.9 C365.5,1005.4 368.4,1005.4 371.6,1007.3 C374.9,1009.2 379.2,1012.7 383.1,1015.4 C387.0,1018.1 390.7,1021.1 395.0,1023.3 C399.3,1025.5 404.4,1026.6 409.1,1028.6 C413.8,1030.6 418.6,1032.9 423.3,1035.3 C428.0,1037.8 432.7,1040.4 437.4,1043.3 C442.1,1046.1 446.8,1049.1 451.5,1052.3 C456.2,1055.5 461.0,1058.8 465.7,1062.3 C470.4,1065.7 475.1,1069.3 479.8,1073.0 C484.5,1076.8 489.2,1080.6 493.9,1084.5 C498.6,1088.4 503.4,1092.4 508.1,1096.4 C512.8,1100.5 517.5,1104.6 522.2,1108.7 C526.9,1112.9 531.6,1117.1 536.3,1121.3 C541.0,1125.4 545.8,1129.7 550.5,1133.9 C555.2,1138.0 559.9,1142.2 564.6,1146.4 C569.3,1150.5 574.0,1154.7 578.7,1158.7 C583.4,1162.7 588.2,1166.7 592.9,1170.6 C597.6,1174.5 604.6,1180.2 607.0,1182.1" fill="none" stroke="#150c06" stroke-width="3.5" stroke-linejoin="round"/>
<path d="M395.0,1023.3 C396.7,1025.2 401.8,1031.0 405.3,1034.8 C408.9,1038.7 412.5,1042.5 416.2,1046.3 C419.9,1050.2 423.7,1054.0 427.5,1057.8 C431.4,1061.7 435.3,1065.5 439.2,1069.4 C443.1,1073.2 447.1,1077.0 451.1,1080.9 C455.1,1084.7 459.2,1088.5 463.2,1092.4 C467.2,1096.2 471.3,1100.1 475.3,1103.9 C479.3,1107.7 483.4,1111.6 487.4,1115.4 C491.4,1119.2 495.4,1123.1 499.3,1126.9 C503.3,1130.8 507.2,1134.6 511.0,1138.4 C514.9,1142.3 518.7,1146.1 522.4,1149.9 C526.1,1153.8 529.7,1157.6 533.3,1161.5 C536.8,1165.3 540.3,1169.1 543.7,1173.0 C547.0,1176.8 550.3,1180.6 553.4,1184.5 C556.5,1188.3 560.9,1194.1 562.4,1196.0" fill="none" stroke="#150c06" stroke-width="3.5" stroke-linejoin="round"/>
<path d="M145.0,759.5 L145.0,1194.0 L606.0,1194.0 L606.0,906" fill="none" stroke="#150c06" stroke-width="4.5"/>
<rect x="140" y="1196.2" width="470.0" height="2.4" fill="#b4b4b4"/>
<rect x="174.1" y="1195.8" width="1.8" height="3.4" fill="#fff"/>
<rect x="235.7" y="1195.8" width="1.8" height="3.4" fill="#fff"/>
<rect x="297.3" y="1195.8" width="1.8" height="3.4" fill="#fff"/>
<rect x="358.9" y="1195.8" width="1.8" height="3.4" fill="#fff"/>
<rect x="420.5" y="1195.8" width="1.8" height="3.4" fill="#fff"/>
<rect x="482.1" y="1195.8" width="1.8" height="3.4" fill="#fff"/>
<rect x="543.7" y="1195.8" width="1.8" height="3.4" fill="#fff"/>
<rect x="605.3" y="1195.8" width="1.8" height="3.4" fill="#fff"/>
<rect x="174.1" y="610" width="1.8" height="7" fill="#fff"/>
<rect x="235.7" y="610" width="1.8" height="7" fill="#fff"/>
<rect x="297.3" y="610" width="1.8" height="7" fill="#fff"/>
<rect x="358.9" y="610" width="1.8" height="7" fill="#fff"/>
<rect x="420.5" y="610" width="1.8" height="7" fill="#fff"/>
<rect x="482.1" y="610" width="1.8" height="7" fill="#fff"/>
<rect x="543.7" y="610" width="1.8" height="7" fill="#fff"/>
<rect x="605.3" y="610" width="1.8" height="7" fill="#fff"/>
<rect x="137" y="806.6" width="6" height="1.8" fill="#fff"/>
<rect x="608.5" y="806.6" width="7" height="1.8" fill="#fff"/>
<rect x="137" y="1000.1" width="6" height="1.8" fill="#fff"/>
<rect x="608.5" y="1000.1" width="7" height="1.8" fill="#fff"/>
<text x="-1" y="635.4" font-size="37" fill="#222">(b)</text>
<text x="132" y="637.5" font-size="39" fill="#222" text-anchor="end">10</text>
<text x="132" y="827.3" font-size="39" fill="#222" text-anchor="end">0</text>
<text x="125.6" y="1020.3" font-size="39" fill="#222" text-anchor="end">-10</text>
<text x="125.6" y="1213.4" font-size="39" fill="#222" text-anchor="end">-20</text>
<text x="175.0" y="1244.7" font-size="39.5" fill="#222" text-anchor="middle">0.6</text>
<text x="236.6" y="1244.7" font-size="39.5" fill="#222" text-anchor="middle">0.8</text>
<text x="298.2" y="1244.7" font-size="39.5" fill="#222" text-anchor="middle">1.0</text>
<text x="359.8" y="1244.7" font-size="39.5" fill="#222" text-anchor="middle">1.2</text>
<text x="421.4" y="1244.7" font-size="39.5" fill="#222" text-anchor="middle">1.4</text>
<text x="483.0" y="1244.7" font-size="39.5" fill="#222" text-anchor="middle">1.6</text>
<text x="544.6" y="1244.7" font-size="39.5" fill="#222" text-anchor="middle">1.8</text>
<text x="606.2" y="1244.7" font-size="39.5" fill="#222" text-anchor="middle">2.0</text>
<text x="349" y="1277" font-size="35" fill="#222">kK/<tspan font-style="italic">T</tspan></text>
<text transform="translate(57,1022) rotate(-90)" font-size="39" fill="#222">log {<tspan font-style="italic">p</tspan>(S<tspan font-size="26" dy="6">2</tspan><tspan dy="-6"> (g))}</tspan></text>
</svg>
</body></html>
